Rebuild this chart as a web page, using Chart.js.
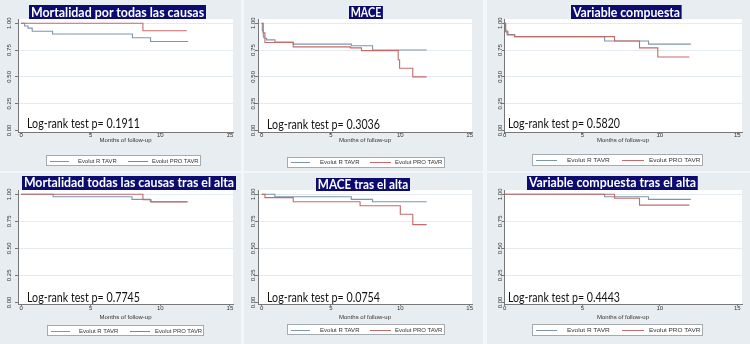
<!DOCTYPE html>
<html><head><meta charset="utf-8">
<script src="https://cdn.jsdelivr.net/npm/chart.js@4.4.0/dist/chart.umd.min.js"></script>
<style>
body{margin:0;width:750px;height:344px;overflow:hidden;background:#f4f7f9;position:relative;font-family:'Liberation Sans',Arial,sans-serif}
.panel{position:absolute;background:#e7edf1}
canvas{position:absolute}
.title{position:absolute;background:#0c0c70;color:#fff;font-family:Lato,sans-serif;font-weight:bold;font-size:13px;white-space:nowrap;transform-origin:0 0;padding:0 2px;box-sizing:content-box}
.lr{position:absolute;font-family:Lato,sans-serif;font-size:14px;line-height:14px;color:#111;white-space:nowrap;transform-origin:0 0}
.leg{position:absolute;background:#fff;border:1px solid #a3abb0;box-sizing:border-box}
.leg .ln{position:absolute;height:1px;top:50%}
.leg .tx{position:absolute;font-family:'Liberation Sans',Arial,sans-serif;font-size:6px;line-height:6px;top:50%;margin-top:-3px;white-space:nowrap;color:#333;transform-origin:0 50%}
</style></head><body>
<script>
// ---------- data ----------
const panelTitles = ['Mortalidad por todas las causas','MACE','Variable compuesta',
  'Mortalidad todas las causas tras el alta','MACE tras el alta','Variable compuesta tras el alta'];
const logRankP = ['0.1911','0.3036','0.5820','0.7745','0.0754','0.4443'];
const seriesNames = ['Evolut R TAVR','Evolut PRO TAVR'];
const xTickValues = [0,5,10,15];
const yTickValues = [0,0.25,0.5,0.75,1];
const xAxisTitle = 'Months of follow-up';

// Mortalidad por todas las causas
const mort_R_time = [0,0.26,0.5,0.8,2.26,8.0,9.3,12.0];
const mort_R_surv = [1,0.975,0.955,0.925,0.90,0.865,0.83,0.83];
const mort_P_time = [0,8.75,11.9];
const mort_P_surv = [1,0.93,0.93];
// MACE
const mace_R_time = [0,0.05,0.12,0.17,0.36,0.96,2.28,6.47,8.0,11.9];
const mace_R_surv = [1,0.93,0.88,0.86,0.845,0.825,0.805,0.79,0.75,0.75];
const mace_P_time = [0,0.12,0.24,2.28,6.4,7.2,9.85,9.95,10.9,11.9];
const mace_P_surv = [1,0.91,0.82,0.78,0.77,0.745,0.66,0.58,0.5,0.5];
// Variable compuesta
const comp_R_time = [0,0.06,0.21,0.64,6.44,9.27,12.0];
const comp_R_surv = [1,0.92,0.895,0.875,0.835,0.805,0.805];
const comp_P_time = [0,0.05,0.15,0.64,7.08,8.69,9.87,11.9];
const comp_P_surv = [1,0.93,0.89,0.875,0.835,0.77,0.685,0.685];
// Mortalidad todas las causas tras el alta
const mortAlta_R_time = [0,2.3,7.96,9.28,12.0];
const mortAlta_R_surv = [1,0.978,0.953,0.931,0.931];
const mortAlta_P_time = [0,8.75,9.33,11.9];
const mortAlta_P_surv = [1,0.95,0.93,0.93];
// MACE tras el alta
const maceAlta_R_time = [0,0.96,6.47,8.0,11.9];
const maceAlta_R_surv = [1,0.978,0.953,0.931,0.931];
const maceAlta_P_time = [0,0.24,2.28,7.1,10.0,10.9,11.9];
const maceAlta_P_surv = [1,0.969,0.931,0.894,0.816,0.72,0.72];
// Variable compuesta tras el alta
const compAlta_R_time = [0,6.44,9.27,12.0];
const compAlta_R_surv = [1,0.978,0.953,0.953];
const compAlta_P_time = [0,7.08,8.69,11.9];
const compAlta_P_surv = [1,0.963,0.90,0.90];

const panelSeries = [
  [[mort_R_time,mort_R_surv],[mort_P_time,mort_P_surv]],
  [[mace_R_time,mace_R_surv],[mace_P_time,mace_P_surv]],
  [[comp_R_time,comp_R_surv],[comp_P_time,comp_P_surv]],
  [[mortAlta_R_time,mortAlta_R_surv],[mortAlta_P_time,mortAlta_P_surv]],
  [[maceAlta_R_time,maceAlta_R_surv],[maceAlta_P_time,maceAlta_P_surv]],
  [[compAlta_R_time,compAlta_R_surv],[compAlta_P_time,compAlta_P_surv]]
];

// ---------- layout & style ----------
const seriesColors = ['#7d96ab','#c26b6b'];
const colGeom = [
  {panelL:0,   panelW:241, plotL:18,  plotR:233, xMin:-0.22, xMax:15.22, yW:18, yTick:3, yPad:0.2},
  {panelL:244, panelW:239, plotL:258, plotR:472, xMin:-0.26, xMax:15.17, yW:14, yTick:3, yPad:-3.8},
  {panelL:487, panelW:263, plotL:504, plotR:742, xMin:-0.05, xMax:15.3,  yW:13, yTick:2, yPad:-3.8}
];
const rowGeom = [
  {panelT:0,   panelH:171, plotT:19,  plotB:132, xH:13, xTickPad:-2, titlePadB:1.2},
  {panelT:173, panelH:171, plotT:190, plotB:304, xH:17, xTickPad:-1, titlePadB:0}
];
const titleBox = [[29,5,177,14],[349,6,34,13],[571,5,111,14],[22,176,214,13.5],[316,178,94,12.5],[527,176,171,13.5]];
const lrPos = [[27,116,113],[267,117,113],[508,116,112],[27,290,113],[267,290,113],[508,290,112]];
const legBox = [[46,155,155,11],[287,157,158,10.5],[532,154,171,12],[47,325,157,11],[287,324,158,11],[532,324,171,12]];

function fitW(el, w){
  const nat = el.getBoundingClientRect().width;
  el.style.transform = 'scaleX(' + (w/nat) + ')';
}

const plotBg = {id:'plotBg', beforeDraw(c){
  const {ctx, chartArea:a} = c;
  ctx.save(); ctx.fillStyle = '#ffffff';
  ctx.fillRect(a.left, a.top, a.right-a.left, a.bottom-a.top); ctx.restore();
}};

// panels backgrounds
for (let r=0;r<2;r++) for (let c=0;c<3;c++){
  const d = document.createElement('div'); d.className='panel';
  Object.assign(d.style,{left:colGeom[c].panelL+'px',top:rowGeom[r].panelT+'px',
    width:colGeom[c].panelW+'px',height:rowGeom[r].panelH+'px'});
  document.body.appendChild(d);
}

for (let i=0;i<6;i++){
  const r = Math.floor(i/3), c = i%3;
  const cg = colGeom[c], rg = rowGeom[r];
  const padTop = 5, padRight = 3;
  const cv = document.createElement('canvas');
  const W = cg.yW + (cg.plotR-cg.plotL) + padRight;
  const H = padTop + (rg.plotB-rg.plotT) + rg.xH;
  cv.width = W; cv.height = H;
  cv.style.left = (cg.plotL-cg.yW)+'px'; cv.style.top = (rg.plotT-padTop)+'px';
  cv.style.width = W+'px'; cv.style.height = H+'px';
  document.body.appendChild(cv);

  const datasets = panelSeries[i].map((s,k)=>({
    label: seriesNames[k],
    data: s[0].map((t,j)=>({x:t, y:s[1][j]})),
    borderColor: seriesColors[k], borderWidth: 1.1,
    pointRadius: 0, stepped: 'before', fill:false, tension:0
  })).reverse();

  new Chart(cv, {
    type:'line',
    data:{datasets},
    options:{
      responsive:false, animation:false, devicePixelRatio:1,
      layout:{padding:{top:padTop,right:padRight,left:0,bottom:0}},
      plugins:{legend:{display:false}, tooltip:{enabled:false}},
      scales:{
        x:{type:'linear', min:cg.xMin, max:cg.xMax,
          afterBuildTicks:s=>{s.ticks = xTickValues.map(v=>({value:v}));},
          afterFit:s=>{s.height = rg.xH;},
          ticks:{font:{family:'Liberation Sans',size:6}, color:'#333', padding:rg.xTickPad, maxRotation:0, autoSkip:false},
          grid:{drawOnChartArea:false, drawTicks:true, tickLength:2, tickColor:'#777'},
          border:{display:true, color:'#777', width:1},
          title:{display:true, text:xAxisTitle, font:{family:'Liberation Sans',size:6}, color:'#333', padding:{top:0,bottom:rg.titlePadB}}
        },
        y:{type:'linear', min:-0.015, max:1.04,
          afterBuildTicks:s=>{s.ticks = yTickValues.map(v=>({value:v}));},
          afterFit:s=>{s.width = cg.yW;},
          ticks:{font:{family:'Liberation Sans',size:6}, color:'#333', minRotation:90, maxRotation:90,
            crossAlign:'center', padding:cg.yPad, autoSkip:false, callback:v=>Number(v).toFixed(2)},
          grid:{color:ctx=>(ctx.tick && ctx.tick.value===0)?'rgba(0,0,0,0)':'#e4eaee', lineWidth:1,
            drawTicks:true, tickLength:cg.yTick, tickColor:'#777'},
          border:{display:true, color:'#777', width:1}
        }
      }
    },
    plugins:[plotBg]
  });

  // title
  const tb = titleBox[i];
  const t = document.createElement('div'); t.className='title'; t.textContent = panelTitles[i];
  Object.assign(t.style,{left:tb[0]+'px',top:tb[1]+'px',height:tb[3]+'px',lineHeight:tb[3]+'px'});
  document.body.appendChild(t); fitW(t, tb[2]);

  // log-rank text
  const lp = lrPos[i];
  const l = document.createElement('div'); l.className='lr'; l.textContent = 'Log-rank test p= ' + logRankP[i];
  Object.assign(l.style,{left:lp[0]+'px',top:lp[1]+'px'});
  document.body.appendChild(l); fitW(l, lp[2]);

  // legend
  const lb = legBox[i];
  const g = document.createElement('div'); g.className='leg';
  Object.assign(g.style,{left:lb[0]+'px',top:lb[1]+'px',width:lb[2]+'px',height:lb[3]+'px'});
  document.body.appendChild(g);
  const items = [{l0:0.02,l1:0.14,tx:0.20,tw:0.25},{l0:0.52,l1:0.65,tx:0.68,tw:0.30}];
  items.forEach((it,k)=>{
    const ln = document.createElement('div'); ln.className='ln';
    Object.assign(ln.style,{left:(it.l0*lb[2])+'px',width:((it.l1-it.l0)*lb[2])+'px',background:seriesColors[k]});
    g.appendChild(ln);
    const tx = document.createElement('div'); tx.className='tx'; tx.textContent = seriesNames[k];
    tx.style.left = (it.tx*lb[2])+'px';
    g.appendChild(tx); fitW(tx, it.tw*lb[2]);
  });
}
</script>
</body></html>
